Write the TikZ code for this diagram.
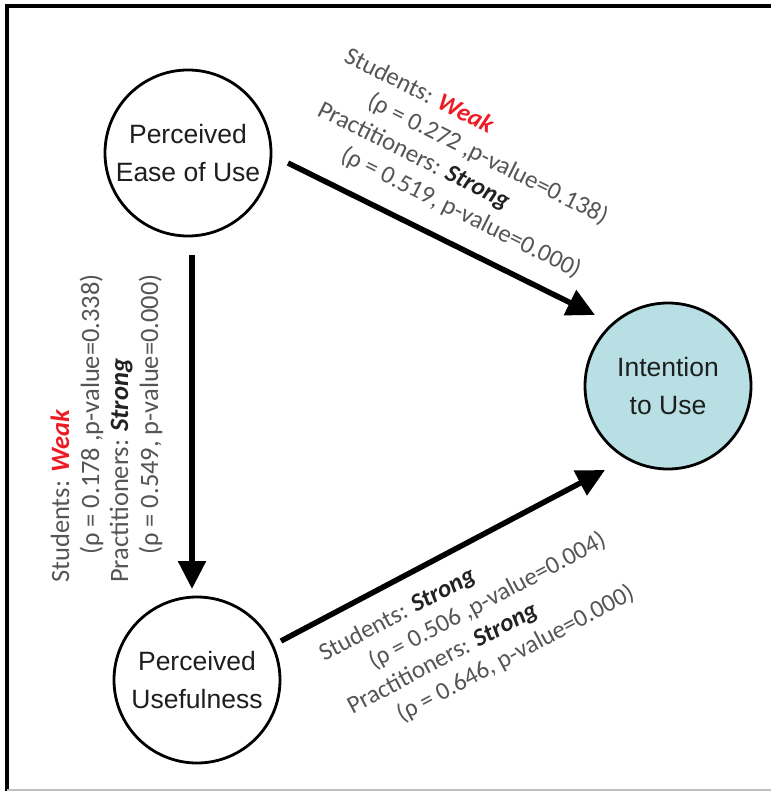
\documentclass[tikz,border=0pt]{standalone}
\usepackage{fontspec}
\setmainfont{Liberation Sans}
\newfontfamily\lblfamily{Carlito}
\usetikzlibrary{arrows.meta}
\definecolor{lblgray}{RGB}{85,85,85}
\definecolor{weakred}{RGB}{237,28,36}
\definecolor{strongdark}{RGB}{34,34,34}
\definecolor{itufill}{RGB}{184,223,228}
\definecolor{nodetext}{RGB}{30,30,30}
\newcommand{\weaktxt}{\textcolor{weakred}{\textbf{\textit{Weak}}}}
\newcommand{\strongtxt}{\textcolor{strongdark}{\textbf{\textit{Strong}}}}
\begin{document}
\begin{tikzpicture}[x=1pt,y=-1pt,
  construct/.style={circle, draw=black, line width=2.8pt, minimum size=166pt, inner sep=0pt,
    align=center, font=\fontsize{26.5}{38}\selectfont, text=nodetext},
  link/.style={line width=5.5pt, -{Triangle[length=28pt,width=27pt]}},
  lbl/.style={anchor=west, inner sep=0pt, text height=18pt, text depth=6pt,
    font=\lblfamily\fontsize{25}{30}\selectfont, text=lblgray},
  vlbl/.style={lbl, rotate=90, font=\lblfamily\fontsize{26.5}{30}\selectfont}]

\useasboundingbox (0,0) rectangle (770,791);
\draw[line width=3.5pt] (7,795) -- (7,6) -- (775,6);
\draw[gray!50, line width=1.5pt] (7,790) -- (775,790);

\node[construct] (peou) at (188,153) {Perceived\\Ease of Use};
\node[construct] (pu) at (197,680) {Perceived\\Usefulness};
\node[construct, fill=itufill] (itu) at (668,386) {Intention\\to Use};

\coordinate (a1s) at (288,163); \coordinate (a1e) at (595,315);
\coordinate (a2s) at (192,255); \coordinate (a2e) at (192,589);
\coordinate (a3s) at (281,641); \coordinate (a3e) at (605,470);
\draw[link] (a1s) -- (a1e);
\draw[link] (a2s) -- (a2e);
\draw[link] (a3s) -- (a3e);

\begin{scope}[shift={(345.3,55.9)}, rotate=-26.5]
  \node[lbl, rotate=-26.5] (t1) at (0,0) {Students: \weaktxt};
  \node[lbl, rotate=-26.5] (t2) at (41,30) {(ρ = 0.272 ,p-value=0.138)};
  \node[lbl, rotate=-26.5] (t3) at (0,60) {Practitioners: \strongtxt};
  \node[lbl, rotate=-26.5] (t4) at (41,90) {(ρ = 0.519, p-value=0.000)};
\end{scope}

\begin{scope}[shift={(63,583)}, rotate=90]
  \node[vlbl] (v1) at (0,0) {Students: \weaktxt};
  \node[vlbl] (v2) at (28,30) {(ρ = 0.178 ,p-value=0.338)};
  \node[vlbl] (v3) at (0,59) {Practitioners: \strongtxt};
  \node[vlbl] (v4) at (28,89) {(ρ = 0.549, p-value=0.000)};
\end{scope}

\begin{scope}[shift={(321.4,656.4)}, rotate=28]
  \node[lbl, rotate=28] (b1) at (0,0) {Students: \strongtxt};
  \node[lbl, rotate=28] (b2) at (40,30) {(ρ = 0.506 ,p-value=0.004)};
  \node[lbl, rotate=28] (b3) at (0,60) {Practitioners: \strongtxt};
  \node[lbl, rotate=28] (b4) at (40,90) {(ρ = 0.646, p-value=0.000)};
\end{scope}
\end{tikzpicture}
\end{document}
